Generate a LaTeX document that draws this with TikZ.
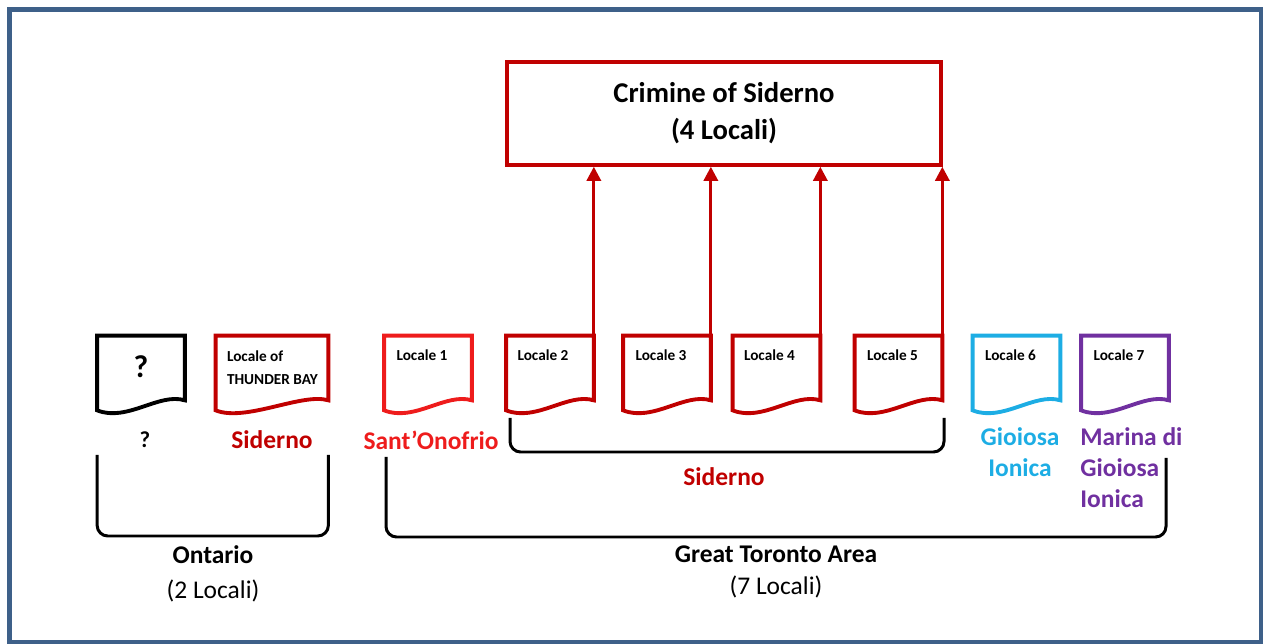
\documentclass[tikz,border=0pt]{standalone}
\usepackage{fontspec}
\setmainfont{Carlito}
\usepackage{xcolor}
\usetikzlibrary{arrows.meta}
\usetikzlibrary{calc}
\definecolor{sidred}{HTML}{C00000}
\definecolor{onored}{HTML}{EE1C1C}
\definecolor{gioblue}{HTML}{1DADE4}
\definecolor{marpurple}{HTML}{7030A0}
\definecolor{frameblue}{HTML}{3E6089}
\def\docframe[#1](#2){\draw[#1] (#2.north west) -- (#2.north east) -- ($(#2.south east)+(0,-5)$) .. controls ($(#2.south east)+(-26,-13)$) and ($(#2.south west)+(30,17)$) .. ($(#2.south west)+(0,5)$) -- cycle}

\begin{document}
\begin{tikzpicture}[x=0.02cm,y=-0.02cm,
    doc/.style={minimum width=1.74cm,minimum height=1.38cm,inner sep=0pt},
    loc/.style={anchor=north west,inner sep=0pt,align=left,font=\bfseries\fontsize{8.7}{13}\selectfont},
    lab/.style={inner sep=0pt,align=center,font=\bfseries\fontsize{14.5}{17.6}\selectfont},
    area/.style={inner sep=0pt,align=center,font=\fontsize{14.5}{20}\selectfont},
    docline/.style={line width=2.2pt},
    arr/.style={draw=sidred,line width=1.7pt,-{Triangle[width=8pt,length=8pt]}},
    brack/.style={line width=1.7pt,rounded corners=6pt}]
        %%% FRAME %%%
        \useasboundingbox (0,0) rectangle (1263,644);
        \draw[frameblue,line width=2.4pt] (9.5,9.5) rectangle (1261,642);

        %%% CRIMINE %%%
        \node[draw=sidred,line width=2pt,minimum width=8.68cm,minimum height=2.06cm,
              align=center,font=\bfseries\fontsize{16.3}{21}\selectfont] (crim) at (724,113.5)
              {Crimine of Siderno\\(4 Locali)};

        %%% LOCALI %%%
        \node[doc] (q) at (141,370.5) {};
        \node[doc,minimum width=2.24cm] (tb) at (272,370.5) {};
        \node[doc] (l1) at (428,370.5) {};
        \node[doc] (l2) at (550,370.5) {};
        \node[doc] (l3) at (667,370.5) {};
        \node[doc] (l4) at (776.5,370.5) {};
        \node[doc] (l5) at (898.5,370.5) {};
        \node[doc] (l6) at (1016.5,370.5) {};
        \node[doc] (l7) at (1125,370.5) {};

        \docframe[docline,black](q);
        \docframe[docline,sidred](tb);
        \docframe[docline,onored](l1);
        \foreach \n in {l2,l3,l4,l5}
            \docframe[docline,sidred](\n);
        \docframe[docline,gioblue](l6);
        \docframe[docline,marpurple](l7);

        \node[inner sep=0pt,font=\bfseries\fontsize{18}{20}\selectfont] (qt) at (141,367) {?};
        \node[loc] (tbt) at ([shift={(11,15)}]tb.north west) {Locale of\\THUNDER BAY};
        \node[loc] (l1t) at ([shift={(12,14)}]l1.north west) {Locale 1};
        \node[loc] (l2t) at ([shift={(11,14)}]l2.north west) {Locale 2};
        \node[loc] (l3t) at ([shift={(12,14)}]l3.north west) {Locale 3};
        \node[loc] (l4t) at ([shift={(11,14)}]l4.north west) {Locale 4};
        \node[loc] (l5t) at ([shift={(12,14)}]l5.north west) {Locale 5};
        \node[loc] (l6t) at ([shift={(12,14)}]l6.north west) {Locale 6};
        \node[loc] (l7t) at ([shift={(12,14)}]l7.north west) {Locale 7};

        %%% ARROWS TO CRIMINE %%%
        \foreach \n in {l2,l3,l4,l5}
            \draw[arr] (\n.north east) -- (\n.north east |- crim.south);

        %%% ORIGINS %%%
        \node[lab,font=\bfseries\fontsize{13}{16}\selectfont] (qo) at (145,440) {?};
        \node[lab,sidred] (tbo) at (272,440) {Siderno};
        \node[lab,onored] (l1o) at (431,440) {Sant’Onofrio};
        \node[lab,sidred] (sido) at (724,477) {Siderno};
        \node[lab,gioblue] (l6o) at (1020,452.5) {Gioiosa\\Ionica};
        \node[lab,marpurple,align=left,anchor=west] (l7o) at (1080,468) {Marina di\\Gioiosa\\Ionica};

        %%% BRACKETS %%%
        \draw[brack] (q.west |- 0,455) -- (q.west |- 0,536) -- (tb.east |- 0,536) -- (tb.east |- 0,455);
        \draw[brack] (510,418) -- (510,452) -- (944,452) -- (944,418);
        \draw[brack] (386,457) -- (386,537) -- (1166,537) -- (1166,458);

        %%% AREAS %%%
        \node[area] (ont) at (213,574) {\textbf{Ontario}\\(2 Locali)};
        \node[area,font=\fontsize{14.5}{18.5}\selectfont] (gta) at (776,572) {\textbf{Great Toronto Area}\\(7 Locali)};
\end{tikzpicture}
\end{document}
